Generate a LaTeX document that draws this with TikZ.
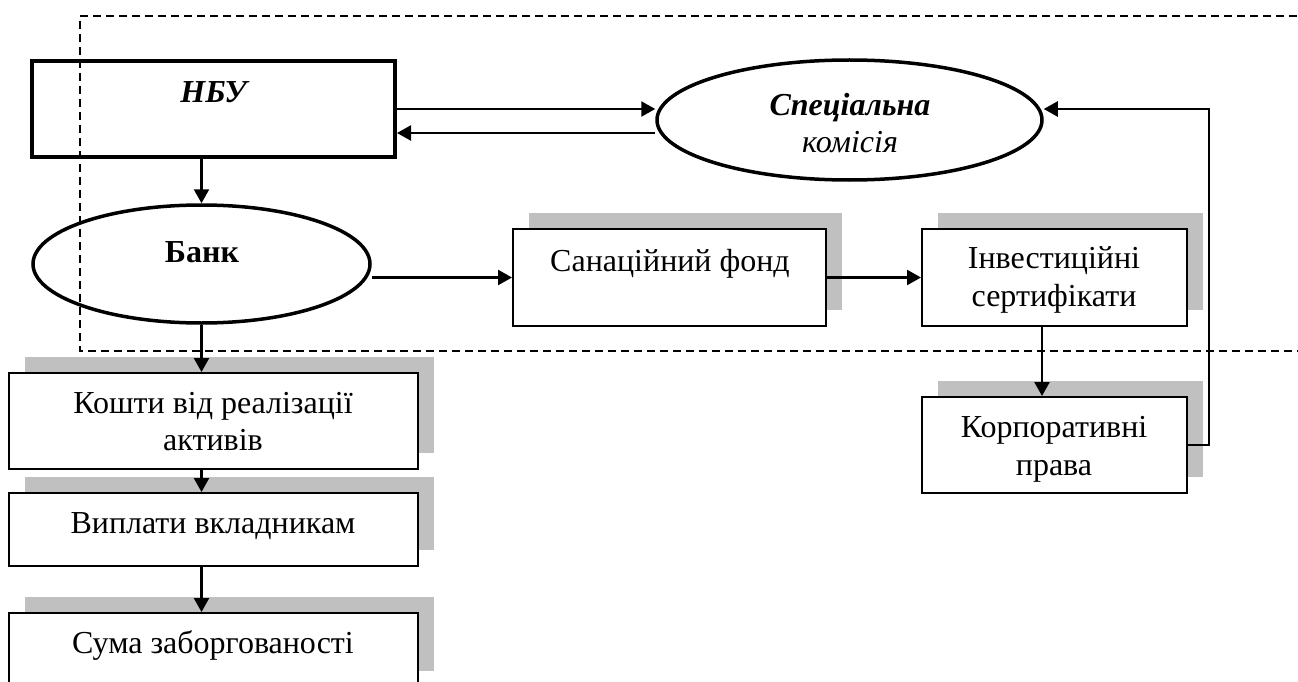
\documentclass[tikz,border=0pt]{standalone}
\usepackage{fontspec}
\setmainfont{Liberation Serif}
\usetikzlibrary{shapes.geometric,arrows.meta,shadows}
\definecolor{shade}{RGB}{192,192,192}
\begin{document}
\begin{tikzpicture}[x=1pt,y=-1pt,
  box/.style={draw,line width=2pt,fill=white,inner sep=0pt,
    drop shadow={shadow xshift=16pt,shadow yshift=16pt,fill=shade,opacity=1}},
  mainbox/.style={draw,line width=4pt,inner sep=0pt},
  oval/.style={ellipse,draw,line width=3.5pt,inner sep=0pt},
  txt/.style={anchor=base,inner sep=0pt,font=\fontsize{32}{38}\selectfont},
  arr/.style={line width=2.4pt,-{Triangle[length=14pt,width=15pt]}},
  frame/.style={line width=2.2pt,dash pattern=on 8pt off 5pt}]
\clip (0,0) rectangle (1298,682);
% nodes
\node[mainbox,minimum width=363pt,minimum height=96pt] (nbu) at (213.5,109) {};
\node[oval,minimum width=337pt,minimum height=118pt] (bank) at (201.5,264) {};
\node[oval,minimum width=385pt,minimum height=120pt] (spec) at (849.5,120) {};
\node[box,minimum width=313pt,minimum height=97pt] (fond) at (669.5,277.5) {};
\node[box,minimum width=265pt,minimum height=97pt] (inv) at (1054.5,277.5) {};
\node[box,minimum width=265pt,minimum height=96pt] (corp) at (1054.5,445) {};
\node[box,minimum width=409pt,minimum height=96pt] (kosh) at (213.5,421) {};
\node[box,minimum width=409pt,minimum height=73pt] (vypl) at (213.5,529.5) {};
\node[box,minimum width=409pt,minimum height=74pt] (suma) at (213.5,650) {};
% texts
\node[txt] (tnbu) at (213.5,103) {\bfseries\itshape НБУ};
\node[txt] (tbank) at (202,262) {\bfseries Банк};
\node[txt] (tspec1) at (850,116) {\bfseries\itshape Спеціальна};
\node[txt] (tspec2) at (850,153) {\itshape комісія};
\node[txt] (tfond) at (670,271) {Санаційний фонд};
\node[txt] (tinv1) at (1054,268) {Інвестиційні};
\node[txt] (tinv2) at (1054,306) {сертифікати};
\node[txt] (tcorp1) at (1054,437) {Корпоративні};
\node[txt] (tcorp2) at (1054,475) {права};
\node[txt] (tkosh1) at (213,413) {Кошти від реалізації};
\node[txt] (tkosh2) at (213,450) {активів};
\node[txt] (tvypl) at (213,533) {Виплати вкладникам};
\node[txt] (tsuma) at (213,653) {Сума заборгованості};
% connectors
\coordinate (corner) at (1209,109);
\draw[arr] (bank.north |- nbu.south) -- (bank.north);
\draw[arr] (nbu.east) -- (spec.west |- nbu.east);
\draw[arr] (spec.west |- 0,133) -- (nbu.east |- 0,133);
\draw[arr] (bank.east |- fond.west) -- (fond.west);
\draw[arr] (fond.east) -- (inv.west);
\draw[arr] (inv.south -| 1042,0) -- (corp.north -| 1042,0);
\draw[arr] (corp.east) -| (corner) -- (spec.east |- corner);
\draw[arr] (bank.south) -- (kosh.north -| bank.south);
\draw[arr] (kosh.south -| bank.south) -- (vypl.north -| bank.south);
\draw[arr] (vypl.south -| bank.south) -- (suma.north -| bank.south);
% dashed frame
\draw[frame] (1310,16) -- (80,16) -- (80,351) -- (1310,351);
\end{tikzpicture}
\end{document}
